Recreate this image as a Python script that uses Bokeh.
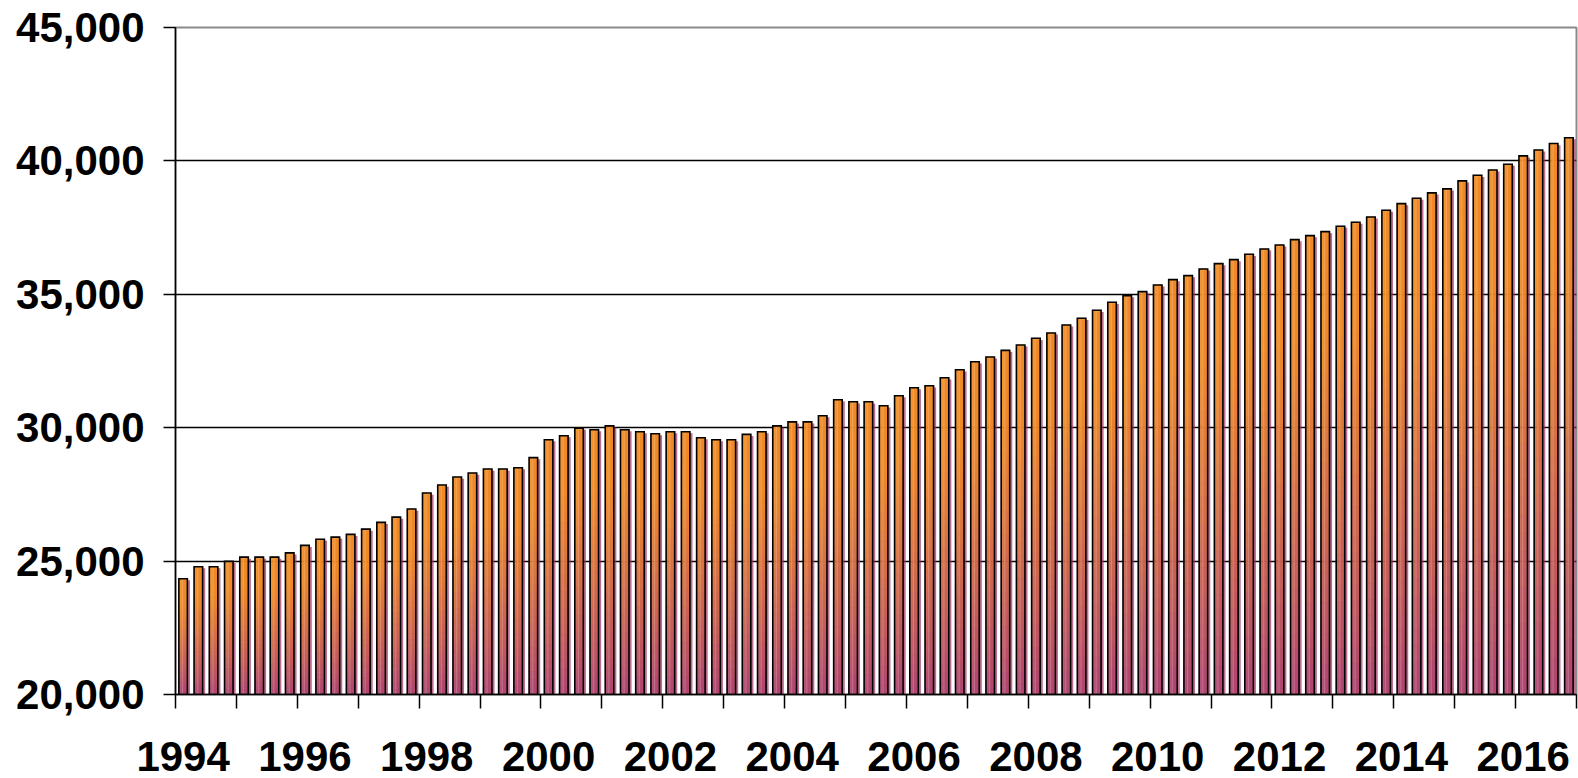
import numpy as np
from bokeh.plotting import figure
from bokeh.models import Range1d, FixedTicker, NumeralTickFormatter, ColumnDataSource
from bokeh.embed import file_html
from bokeh.resources import INLINE

# ---------------- data ----------------
years = list(range(1994, 2017))
quarters = [f"{y}Q{q}" for y in years for q in range(1, 5)]
values = [
    24340, 24790, 24790, 24990,
    25150, 25150, 25150, 25310,
    25590, 25820, 25900, 26000,
    26200, 26450, 26650, 26950,
    27550, 27850, 28150, 28300,
    28450, 28450, 28500, 28880,
    29550, 29700, 29980, 29925,
    30070, 29925, 29850, 29775,
    29850, 29850, 29625, 29550,
    29550, 29750, 29850, 30070,
    30220, 30220, 30450, 31050,
    30970, 30970, 30820, 31200,
    31500, 31570, 31870, 32170,
    32470, 32650, 32900, 33100,
    33350, 33550, 33850, 34100,
    34400, 34700, 34950, 35100,
    35350, 35550, 35700, 35950,
    36150, 36300, 36500, 36700,
    36850, 37050, 37200, 37350,
    37550, 37700, 37900, 38150,
    38400, 38600, 38800, 38950,
    39250, 39460, 39660, 39875,
    40190, 40410, 40650, 40870,
]
y_ticks = [20000, 25000, 30000, 35000, 40000, 45000]
label_years = list(range(1994, 2017, 2))

BASE = 20000
TOP = 45000
n = len(values)
BAR_W = 0.56
N_SLICES = 30
TOP_RGB = np.array([243, 140, 32])
BOT_RGB = np.array([172, 66, 112])

# ---------------- derived tables ----------------
centers = [i + 0.5 for i in range(n)]

sl_left, sl_right, sl_bot, sl_top, sl_col = [], [], [], [], []
for c, v in zip(centers, values):
    h = v - BASE
    for k in range(N_SLICES):
        t = 1.0 - (k + 0.5) / N_SLICES  # 0 at top, 1 at bottom
        m = max(0.0, (t - 0.2) / 0.8) ** 1.15
        rgb = TOP_RGB * (1 - m) + BOT_RGB * m
        sl_left.append(c - BAR_W / 2)
        sl_right.append(c + BAR_W / 2)
        sl_bot.append(BASE + h * k / N_SLICES)
        sl_top.append(BASE + h * (k + 1) / N_SLICES)
        sl_col.append("#%02x%02x%02x" % tuple(int(round(x)) for x in rgb))

slices = ColumnDataSource(dict(left=sl_left, right=sl_right, bottom=sl_bot, top=sl_top, color=sl_col))
bars = ColumnDataSource(dict(x=centers, top=values, q=quarters))
shadow = ColumnDataSource(dict(
    left=[c - BAR_W / 2 + 0.17 for c in centers],
    right=[c + BAR_W / 2 + 0.17 for c in centers],
    top=[v - 60 for v in values],
    bottom=[BASE] * n,
))
stripe = ColumnDataSource(dict(
    left=[c - 0.08 for c in centers],
    right=[c + 0.0 for c in centers],
    top=[v - 40 for v in values],
    bottom=[BASE] * n,
))

# ---------------- figure ----------------
p = figure(
    width=1578, height=778,
    x_range=Range1d(0, n), y_range=Range1d(BASE, TOP),
    output_backend="svg", toolbar_location=None,
    min_border_left=175, min_border_right=2, min_border_top=27, min_border_bottom=84,
)
p.background_fill_color = "white"
p.border_fill_color = "white"
p.outline_line_color = "#8a8a8a"
p.outline_line_width = 2

p.quad(left="left", right="right", top="top", bottom="bottom", source=shadow,
       fill_color="#9c2f62", fill_alpha=0.7, line_color=None)
p.quad(left="left", right="right", top="top", bottom="bottom", source=slices,
       fill_color="color", fill_alpha=0.92, line_color="color", line_alpha=0.92, line_width=0.5)
p.quad(left="left", right="right", top="top", bottom="bottom", source=stripe,
       fill_color="white", fill_alpha=0.2, line_color=None)
p.vbar(x="x", top="top", bottom=BASE, width=BAR_W, source=bars,
       fill_color=None, line_color="black", line_width=1.6, line_join="miter")

# grid
p.xgrid.visible = False
p.ygrid.ticker = FixedTicker(ticks=y_ticks)
p.ygrid.grid_line_color = "black"
p.ygrid.grid_line_width = 1.5

FONT = "Liberation Sans"
# y axis
p.yaxis.ticker = FixedTicker(ticks=y_ticks)
p.yaxis.formatter = NumeralTickFormatter(format="0,0")
p.yaxis.major_label_text_font = FONT
p.yaxis.major_label_text_font_style = "bold"
p.yaxis.major_label_text_font_size = "42px"
p.yaxis.major_label_text_color = "black"
p.yaxis.major_tick_out = 12
p.yaxis.major_tick_in = 0
p.yaxis.major_tick_line_width = 1.5
p.yaxis.major_tick_line_color = "black"
p.yaxis.minor_tick_line_color = None
p.yaxis.axis_line_width = 1.5
p.yaxis.axis_line_color = "black"
p.yaxis.major_label_standoff = 19

# x axis
year_pos = [(y - 1994) * 4 + 0.5 for y in label_years]
boundaries = [4 * k for k in range(len(years) + 1)]
p.xaxis.ticker = FixedTicker(ticks=year_pos, minor_ticks=boundaries)
p.xaxis.major_label_overrides = {pos: str(y) for pos, y in zip(year_pos, label_years)}
p.xaxis.major_label_text_font = FONT
p.xaxis.major_label_text_font_style = "bold"
p.xaxis.major_label_text_font_size = "42px"
p.xaxis.major_label_text_color = "black"
p.xaxis.major_tick_line_color = None
p.xaxis.major_tick_out = 0
p.xaxis.major_tick_in = 0
p.xaxis.minor_tick_out = 14
p.xaxis.minor_tick_in = 0
p.xaxis.minor_tick_line_width = 1.5
p.xaxis.minor_tick_line_color = "black"
p.xaxis.axis_line_width = 1.5
p.xaxis.axis_line_color = "black"
p.xaxis.major_label_standoff = 33

open("out.html", "w").write(file_html(p, INLINE))
